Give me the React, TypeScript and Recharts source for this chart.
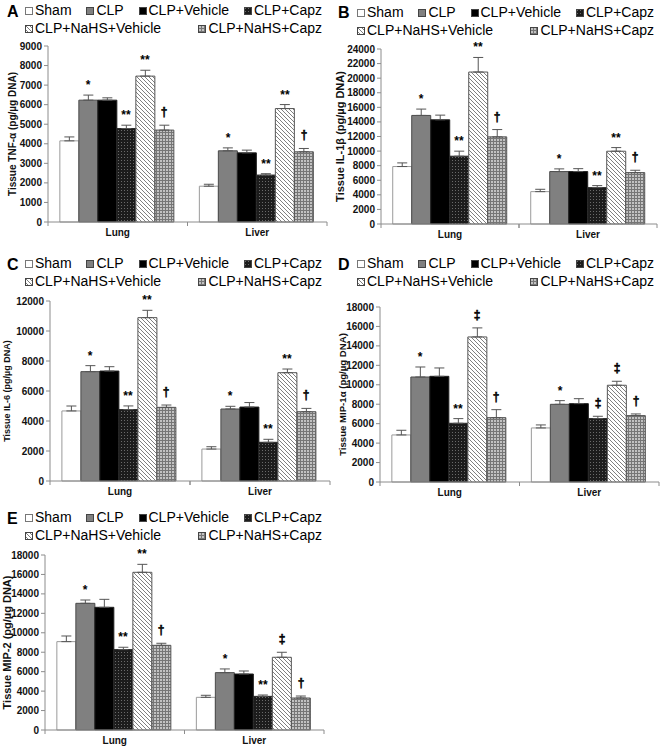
import React from 'react'
import { BarChart, Bar, XAxis, YAxis, ErrorBar, LabelList } from 'recharts'

const groups = ['Lung', 'Liver']
const seriesNames = ['Sham', 'CLP', 'CLP+Vehicle', 'CLP+Capz', 'CLP+NaHS+Vehicle', 'CLP+NaHS+Capz']

// A: TNF-α
const tnfLung = [4150, 6230, 6230, 4780, 7460, 4700]
const tnfLiver = [1830, 3640, 3535, 2400, 5800, 3590]
const tnfLungErr = [200, 260, 120, 170, 300, 250]
const tnfLiverErr = [100, 150, 140, 70, 205, 170]
const tnfLungMarks = ['', '*', '', '**', '**', '†']
const tnfLiverMarks = ['', '*', '', '**', '**', '†']
const tnfTicks = [0, 1000, 2000, 3000, 4000, 5000, 6000, 7000, 8000, 9000]

// B: IL-1β
const il1Lung = [7880, 14890, 14290, 9300, 20840, 11950]
const il1Liver = [4440, 7190, 7190, 4990, 9980, 7050]
const il1LungErr = [500, 870, 640, 690, 2000, 1000]
const il1LiverErr = [320, 370, 400, 275, 500, 320]
const il1LungMarks = ['', '*', '', '**', '**', '†']
const il1LiverMarks = ['', '*', '', '**', '**', '†']
const il1Ticks = [0, 2000, 4000, 6000, 8000, 10000, 12000, 14000, 16000, 18000, 20000, 22000, 24000]

// C: IL-6
const il6Lung = [4670, 7290, 7330, 4760, 10890, 4910]
const il6Liver = [2130, 4800, 4930, 2580, 7220, 4620]
const il6LungErr = [330, 400, 290, 245, 490, 155]
const il6LiverErr = [155, 180, 300, 200, 245, 220]
const il6LungMarks = ['', '*', '', '**', '**', '†']
const il6LiverMarks = ['', '*', '', '**', '**', '†']
const il6Ticks = [0, 2000, 4000, 6000, 8000, 10000, 12000]

// D: MIP-1α
const mip1Lung = [4840, 10800, 10870, 6040, 14920, 6620]
const mip1Liver = [5560, 7990, 8060, 6520, 9950, 6830]
const mip1LungErr = [480, 1030, 860, 480, 930, 820]
const mip1LiverErr = [310, 380, 510, 240, 410, 170]
const mip1LungMarks = ['', '*', '', '**', '‡', '†']
const mip1LiverMarks = ['', '*', '', '‡', '‡', '†']
const mip1Ticks = [0, 2000, 4000, 6000, 8000, 10000, 12000, 14000, 16000, 18000]

// E: MIP-2
const mip2Lung = [9090, 13030, 12620, 8270, 16220, 8710]
const mip2Liver = [3360, 5900, 5760, 3460, 7480, 3290]
const mip2LungErr = [580, 340, 820, 240, 820, 210]
const mip2LiverErr = [210, 380, 310, 140, 515, 205]
const mip2LungMarks = ['', '*', '', '**', '**', '†']
const mip2LiverMarks = ['', '*', '', '**', '‡', '†']
const mip2Ticks = [0, 2000, 4000, 6000, 8000, 10000, 12000, 14000, 16000, 18000]

const seriesFills = ['#ffffff', '#808080', '#000000', 'url(#patDots)', 'url(#patDiag)', 'url(#patGrid)']
const seriesStrokes = ['#9a9a9a', '#4a4a4a', '#222222', '#2a2a2a', '#555555', '#555555']
const axisColor = '#8c8c8c'

function makeRows(means: number[][], errs: number[][], marks: string[][]) {
  return groups.map((g, gi) => {
    const row: any = { group: g }
    seriesNames.forEach((_, si) => {
      row['v' + si] = means[gi][si]
      row['e' + si] = [0, errs[gi][si]]
      row['m' + si] = marks[gi][si]
    })
    return row
  })
}

const panels = [
  {
    letter: 'A', title: 'Tissue TNF-α (pg/µg DNA)', ticks: tnfTicks, titleSize: 10,
    rows: makeRows([tnfLung, tnfLiver], [tnfLungErr, tnfLiverErr], [tnfLungMarks, tnfLiverMarks]),
    col: 0, row: 0, axisX: 48, plotTop: 46, zero: 222, right: 327, labelX: 12, legendTop: 1, legendLeft: 25,
  },
  {
    letter: 'B', title: 'Tissue IL-1β (pg/µg DNA)', ticks: il1Ticks, titleSize: 11,
    rows: makeRows([il1Lung, il1Liver], [il1LungErr, il1LiverErr], [il1LungMarks, il1LiverMarks]),
    col: 331, row: 0, axisX: 381, plotTop: 49, zero: 224, right: 657, labelX: 340, legendTop: 2.5, legendLeft: 26,
  },
  {
    letter: 'C', title: 'Tissue IL-6 (pg/µg DNA)', ticks: il6Ticks, titleSize: 9,
    rows: makeRows([il6Lung, il6Liver], [il6LungErr, il6LiverErr], [il6LungMarks, il6LiverMarks]),
    col: 0, row: 245, axisX: 50, plotTop: 301, zero: 481, right: 330, labelX: 7, legendTop: 254, legendLeft: 25,
  },
  {
    letter: 'D', title: 'Tissue MIP-1α (pg/µg DNA)', ticks: mip1Ticks, titleSize: 9.6,
    rows: makeRows([mip1Lung, mip1Liver], [mip1LungErr, mip1LiverErr], [mip1LungMarks, mip1LiverMarks]),
    col: 331, row: 245, axisX: 380, plotTop: 307, zero: 482, right: 659, labelX: 342, legendTop: 254, legendLeft: 26,
  },
  {
    letter: 'E', title: 'Tissue MIP-2 (pg/µg DNA)', ticks: mip2Ticks, titleSize: 11,
    rows: makeRows([mip2Lung, mip2Liver], [mip2LungErr, mip2LiverErr], [mip2LungMarks, mip2LiverMarks]),
    col: 0, row: 495, axisX: 45, plotTop: 555, zero: 730, right: 324, labelX: 7, legendTop: 508, legendLeft: 25,
  },
]

function PatternDefs() {
  return (
    <svg width={0} height={0} style={{ position: 'absolute' }}>
      <defs>
        <pattern id="patDots" patternUnits="userSpaceOnUse" width={3} height={3}>
          <rect width={3} height={3} fill="#1c1c1c" />
          <rect x={1} y={1} width={1} height={1} fill="#6a6a6a" />
        </pattern>
        <pattern id="patDiag" patternUnits="userSpaceOnUse" width={4} height={4}>
          <rect width={4} height={4} fill="#ffffff" />
          <path d="M0,0 L4,4 M-1,3 L1,5 M3,-1 L5,1" stroke="#808080" strokeWidth={1} />
        </pattern>
        <pattern id="patGrid" patternUnits="userSpaceOnUse" width={3} height={3}>
          <rect width={3} height={3} fill="#c2c2c2" />
          <rect width={3} height={1} fill="#767676" />
          <rect width={1} height={3} fill="#767676" />
        </pattern>
      </defs>
    </svg>
  )
}

function GroupTick(props: any) {
  const { x, y, payload, band } = props
  return (
    <g>
      <text x={x} y={y + 14} textAnchor="middle" fontSize={10} fontWeight="bold" fill="#111">
        {payload.value}
      </text>
      <line x1={x - band / 2} x2={x - band / 2} y1={y} y2={y + 4} stroke={axisColor} />
      <line x1={x + band / 2} x2={x + band / 2} y1={y} y2={y + 4} stroke={axisColor} />
    </g>
  )
}

function YTitle(props: any) {
  const { viewBox, text, size, offset } = props
  const cx = viewBox.x + offset
  const cy = viewBox.y + viewBox.height / 2
  return (
    <text
      x={cx}
      y={cy}
      transform={`rotate(-90 ${cx} ${cy})`}
      textAnchor="middle"
      dominantBaseline="central"
      fontSize={size}
      fontWeight="bold"
      fill="#111"
    >
      {text}
    </text>
  )
}

const markLabel = (rows: any[], si: number) => (props: any) => {
  const { value, index } = props
  if (!value) return null
  const vb = props.viewBox || props
  const x = props.x ?? vb.x
  const y = props.y ?? vb.y
  const w = props.width ?? vb.width
  const h = props.height ?? vb.height
  const row = rows[index]
  if (!row) return null
  const v = row['v' + si]
  const err = row['e' + si][1]
  const top = y - (err * h) / v
  const dagger = value === '†' || value === '‡'
  return (
    <text
      x={Math.round(x + w / 2)}
      y={top - (dagger ? 9 : 6)}
      textAnchor="middle"
      fontSize={12}
      fontWeight="bold"
      fill="#000"
      stroke={dagger ? '#000' : 'none'}
      strokeWidth={dagger ? 0.5 : 0}
    >
      {value}
    </text>
  )
}

function LegendItem({ si }: { si: number }) {
  return (
    <span>
      <svg width={8} height={8} style={{ marginRight: 2, verticalAlign: 'baseline' }}>
        <rect x={0.5} y={0.5} width={7} height={7} fill={seriesFills[si]} stroke={si === 0 ? '#777' : '#444'} />
      </svg>
      {seriesNames[si]}
    </span>
  )
}

function LegendBlock({ cfg }: { cfg: any }) {
  const rowStyle: React.CSSProperties = {
    position: 'absolute',
    left: cfg.col + cfg.legendLeft,
    width: 297,
    display: 'flex',
    justifyContent: 'space-between',
    fontSize: 14,
    lineHeight: '18px',
    whiteSpace: 'nowrap',
    color: '#000',
  }
  return (
    <>
      <div style={{ position: 'absolute', left: cfg.col + 7, top: cfg.legendTop + 1.5, fontSize: 16, fontWeight: 'bold', lineHeight: '18px' }}>
        {cfg.letter}
      </div>
      <div style={{ ...rowStyle, top: cfg.legendTop }}>
        {[0, 1, 2, 3].map((si) => <LegendItem key={si} si={si} />)}
      </div>
      <div style={{ ...rowStyle, top: cfg.legendTop + 18 }}>
        {[4, 5].map((si) => <LegendItem key={si} si={si} />)}
      </div>
    </>
  )
}

function Panel({ cfg }: { cfg: any }) {
  const width = cfg.right - cfg.col + 2
  const height = cfg.zero + 20 - cfg.row
  const band = (cfg.right - cfg.axisX) / 2
  return (
    <>
      <div style={{ position: 'absolute', left: cfg.col, top: cfg.row }}>
        <BarChart
          width={width}
          height={height}
          data={cfg.rows}
          margin={{ top: cfg.plotTop - cfg.row, right: 2, left: 0, bottom: 0 }}
          barCategoryGap="8.5%"
          barGap={0}
        >
          <XAxis
            dataKey="group"
            height={20}
            interval={0}
            axisLine={{ stroke: axisColor }}
            tickLine={false}
            tickSize={0}
            tickMargin={0}
            tick={(p: any) => <GroupTick {...p} band={band} />}
          />
          <YAxis
            width={cfg.axisX - cfg.col}
            domain={[0, cfg.ticks[cfg.ticks.length - 1]]}
            ticks={cfg.ticks}
            interval={0}
            tickSize={4}
            tickMargin={2}
            axisLine={{ stroke: axisColor }}
            tickLine={{ stroke: axisColor }}
            tick={{ fontSize: 10, fontWeight: 'bold', fill: '#111' }}
            label={{
              content: (lp: any) => (
                <YTitle {...lp} text={cfg.title} size={cfg.titleSize} offset={cfg.labelX - cfg.col} />
              ),
            }}
          />
          {seriesNames.map((name, si) => (
            <Bar
              key={name}
              dataKey={'v' + si}
              name={name}
              fill={seriesFills[si]}
              stroke={seriesStrokes[si]}
              strokeWidth={1}
              isAnimationActive={false}
            >
              <ErrorBar dataKey={'e' + si} direction="y" width={5} stroke="#555" strokeWidth={1} />
              <LabelList dataKey={'m' + si} content={markLabel(cfg.rows, si)} />
            </Bar>
          ))}
        </BarChart>
      </div>
      <LegendBlock cfg={cfg} />
    </>
  )
}

export default function App() {
  return (
    <div
      style={{
        position: 'absolute',
        left: 0,
        top: 0,
        width: 662,
        height: 748,
        background: '#fff',
        fontFamily: '"Liberation Sans", Arial, sans-serif',
      }}
    >
      <PatternDefs />
      {panels.map((p) => (
        <Panel key={p.letter} cfg={p} />
      ))}
    </div>
  )
}
